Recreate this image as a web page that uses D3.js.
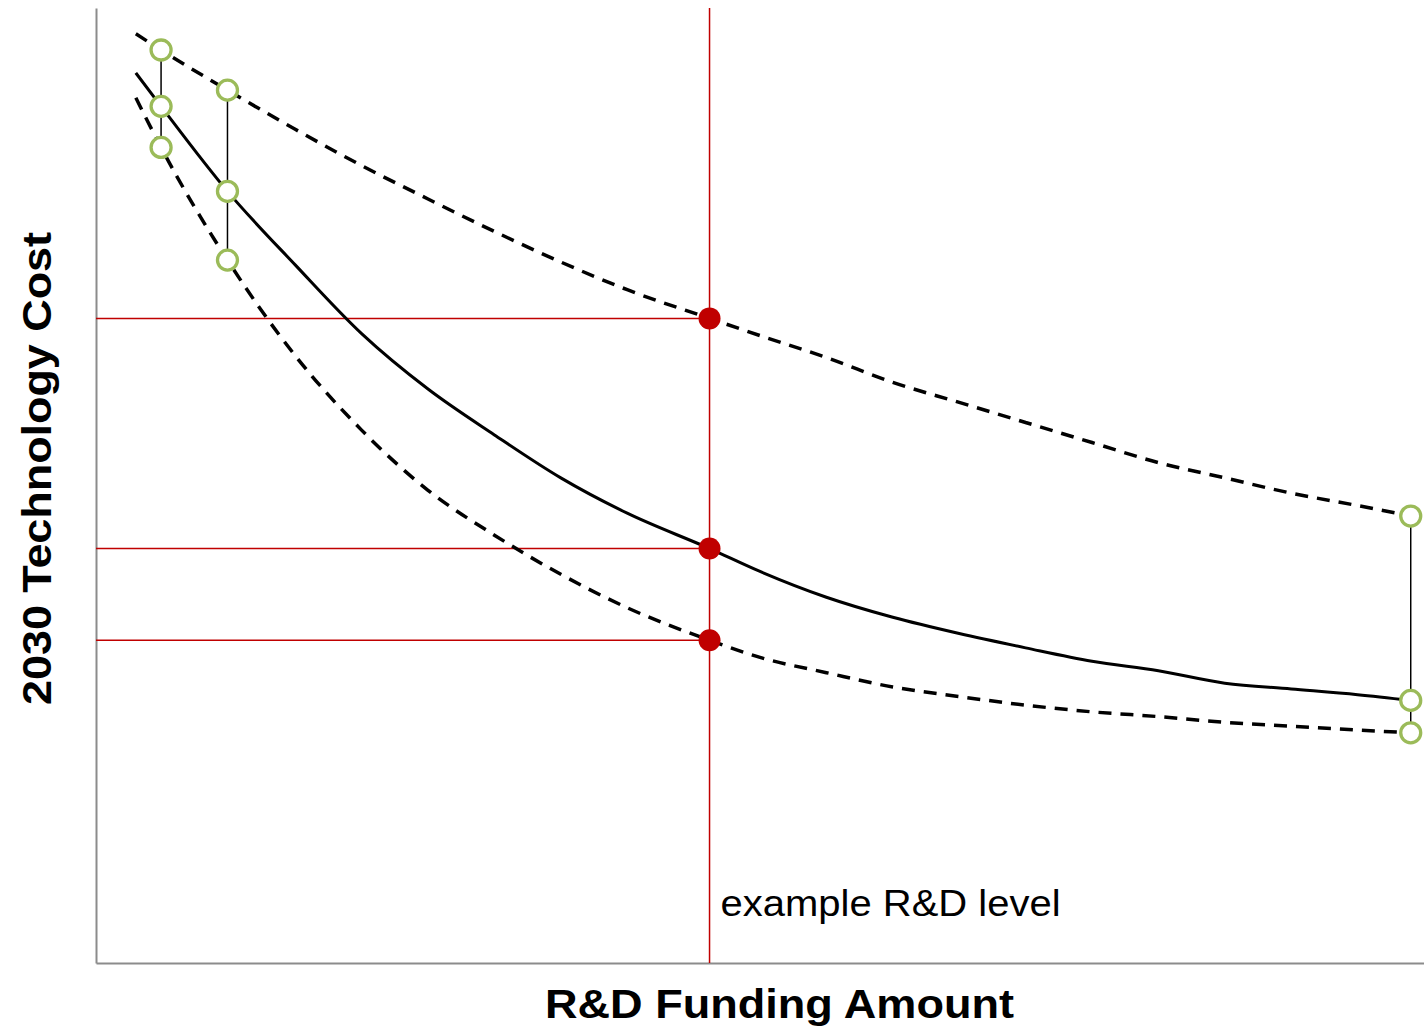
<!DOCTYPE html>
<html>
<head>
<meta charset="utf-8">
<script src="https://cdn.jsdelivr.net/npm/d3@7"></script>
<style>
  html, body { margin: 0; padding: 0; background: #fff; }
  svg { display: block; }
</style>
</head>
<body>
<svg id="chart" width="1424" height="1029"></svg>
<script>
// R&D funding amount (arbitrary units)
const funding = [3, 4.9, 9.9, 15, 20, 25, 30, 35, 40, 46.2, 50, 55, 60, 65, 70, 75, 80, 85, 90, 95, 99];
// 2030 technology cost (arbitrary units)
const costHigh = [97.3, 95.6, 91.4, 87.3, 83.5, 80.0, 76.6, 73.4, 70.5, 67.5, 65.7, 63.4, 60.8, 58.7, 56.6, 54.5, 52.4, 50.8, 49.2, 47.9, 46.8];
const costMid  = [93.2, 89.7, 80.8, 73.1, 65.9, 60.1, 55.3, 50.8, 47.1, 43.4, 41.0, 38.3, 36.2, 34.5, 33.0, 31.6, 30.6, 29.3, 28.7, 28.1, 27.5];
const costLow  = [90.6, 85.4, 73.6, 63.6, 55.8, 49.5, 44.8, 40.7, 37.2, 33.8, 32.0, 30.4, 28.9, 27.9, 27.0, 26.3, 25.8, 25.2, 24.8, 24.4, 24.1];
// indices of uncertainty-range markers and of the example R&D level
const rangeIdx = [1, 2, 20];
const exampleIdx = 9;
const xTitle = "R&D Funding Amount";
const yTitle = "2030 Technology Cost";
const exampleLabel = "example R&D level";

const svg = d3.select("#chart");
const x = d3.scaleLinear().domain([0, 100]).range([96, 1424]);
const y = d3.scaleLinear().domain([0, 100]).range([963, 8]);

const series = [
  { vals: costHigh, dash: "13,9" },
  { vals: costMid, dash: null },
  { vals: costLow, dash: "13,9" }
];

// axes (no ticks)
svg.append("g").attr("transform", `translate(${x(0)},0)`)
  .call(d3.axisLeft(y).tickValues([]).tickSizeOuter(0))
  .call(g => g.select(".domain").attr("stroke", "#8c8c8c").attr("stroke-width", 2));
svg.append("g").attr("transform", `translate(0,${y(0)})`)
  .call(d3.axisBottom(x).tickValues([]).tickSizeOuter(0))
  .call(g => g.select(".domain").attr("stroke", "#8c8c8c").attr("stroke-width", 2));

const red = "#c00000";
const ex = funding[exampleIdx];
// red reference lines
svg.append("line")
  .attr("x1", x(ex)).attr("x2", x(ex))
  .attr("y1", y(0)).attr("y2", y(100))
  .attr("stroke", red).attr("stroke-width", 1.5);
series.forEach(s => {
  svg.append("line")
    .attr("x1", x(0)).attr("x2", x(ex))
    .attr("y1", y(s.vals[exampleIdx])).attr("y2", y(s.vals[exampleIdx]))
    .attr("stroke", red).attr("stroke-width", 1.5);
});

// curves
const line = d3.line().x(d => x(d[0])).y(d => y(d[1])).curve(d3.curveMonotoneX);
series.forEach(s => {
  svg.append("path")
    .datum(funding.map((f, i) => [f, s.vals[i]]))
    .attr("d", line)
    .attr("fill", "none")
    .attr("stroke", "#000")
    .attr("stroke-width", s.dash ? 3.5 : 3)
    .attr("stroke-dasharray", s.dash);
});

// vertical range connectors
rangeIdx.forEach(i => {
  svg.append("line")
    .attr("x1", x(funding[i])).attr("x2", x(funding[i]))
    .attr("y1", y(costHigh[i])).attr("y2", y(costLow[i]))
    .attr("stroke", "#000").attr("stroke-width", 1.5);
});

// red dots
series.forEach(s => {
  svg.append("circle")
    .attr("cx", x(ex)).attr("cy", y(s.vals[exampleIdx]))
    .attr("r", 11).attr("fill", red);
});

// green open markers
rangeIdx.forEach(i => {
  series.forEach(s => {
    svg.append("circle")
      .attr("cx", x(funding[i])).attr("cy", y(s.vals[i]))
      .attr("r", 10).attr("fill", "#fff")
      .attr("stroke", "#9bbb59").attr("stroke-width", 3.3);
  });
});

// texts
svg.append("text")
  .attr("x", x(ex) + 11).attr("y", 916)
  .attr("font-family", "Liberation Sans, Arial, sans-serif")
  .attr("font-size", 36).attr("fill", "#000")
  .attr("textLength", 340).attr("lengthAdjust", "spacingAndGlyphs")
  .text(exampleLabel);

svg.append("text")
  .attr("x", 545).attr("y", 1018)
  .attr("font-family", "Liberation Sans, Arial, sans-serif")
  .attr("font-weight", "bold").attr("font-size", 40).attr("fill", "#000")
  .attr("textLength", 469).attr("lengthAdjust", "spacingAndGlyphs")
  .text(xTitle);

svg.append("text")
  .attr("transform", "translate(51,705) rotate(-90)")
  .attr("font-family", "Liberation Sans, Arial, sans-serif")
  .attr("font-weight", "bold").attr("font-size", 40).attr("fill", "#000")
  .attr("textLength", 473).attr("lengthAdjust", "spacingAndGlyphs")
  .text(yTitle);
</script>
</body>
</html>
